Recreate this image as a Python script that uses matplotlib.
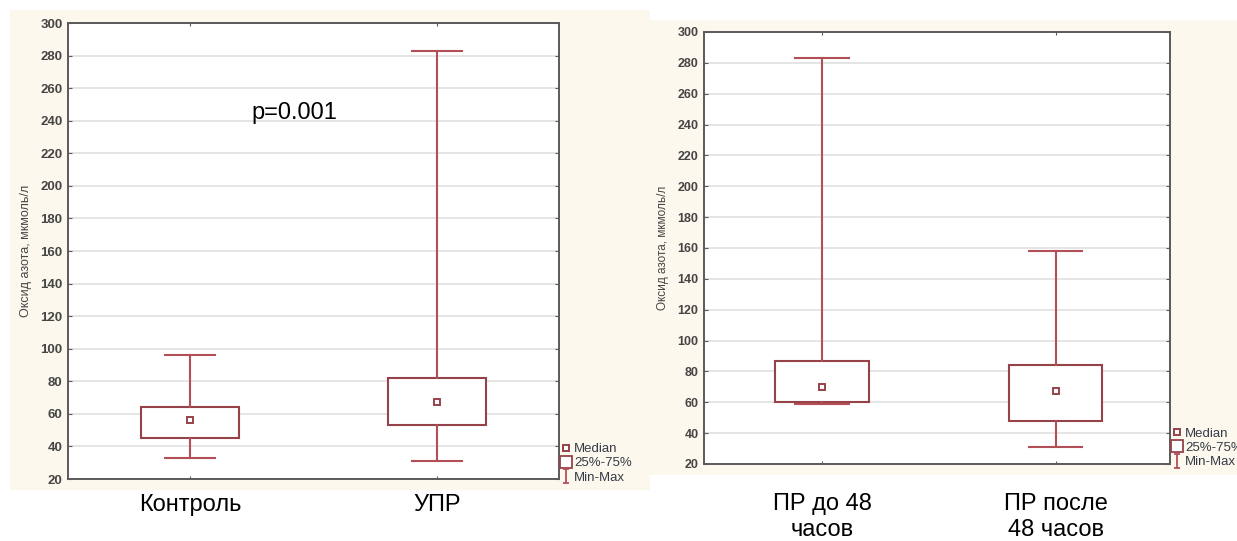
import matplotlib
matplotlib.use("Agg")
import matplotlib.pyplot as plt
from matplotlib.patches import Rectangle
from matplotlib.lines import Line2D
from matplotlib.path import Path

# data
groups_left = ['Контроль', 'УПР']
min_left = [33, 31]
q1_left = [45, 53]
med_left = [56, 67]
q3_left = [64, 82]
max_left = [96, 283]

groups_right = ['ПР до 48\nчасов', 'ПР после\n48 часов']
min_right = [59, 31]
q1_right = [60, 48]
med_right = [70, 67]
q3_right = [87, 84]
max_right = [283, 158]

y_ticks = list(range(20, 301, 20))
y_label = 'Оксид азота, мкмоль/л'
legend_labels = ['Median', '25%-75%', 'Min-Max']

box_col = '#964249'
whisk_col = '#b14e56'
beige = '#fdf8ed'
tick_col = '#454545'
leg_col = '#353b48'

plt.rcParams['font.family'] = ['Liberation Sans', 'DejaVu Sans']

fig = plt.figure(figsize=(12.37, 5.41), dpi=100)
fig.patch.set_facecolor('white')
fig.patches.append(Rectangle((10 / 1237, 1 - 490 / 541), 640 / 1237, 480 / 541,
                             transform=fig.transFigure, facecolor=beige,
                             edgecolor='none', zorder=-10))
fig.patches.append(Rectangle((649 / 1237, 1 - 475 / 541), 588 / 1237, 455 / 541,
                             transform=fig.transFigure, facecolor=beige,
                             edgecolor='none', zorder=-10))

ax1 = fig.add_axes([68 / 1237, 1 - 479 / 541, 491 / 1237, 456 / 541])
ax2 = fig.add_axes([704 / 1237, 1 - 464 / 541, 466 / 1237, 432 / 541])

minmax_marker = Path([(-0.4, -1), (0.4, -1), (0, -1), (0, 1), (-0.4, 1), (0.4, 1)],
                     [Path.MOVETO, Path.LINETO, Path.MOVETO, Path.LINETO,
                      Path.MOVETO, Path.LINETO])


def draw_panel(ax, groups, mins, q1s, meds, q3s, maxs, xlim, capw, pad, tsize, lsize):
    stats = []
    for i in range(len(groups)):
        stats.append({'med': meds[i], 'q1': q1s[i], 'q3': q3s[i],
                      'whislo': mins[i], 'whishi': maxs[i],
                      'mean': meds[i], 'fliers': []})
    ax.bxp(stats, positions=list(range(len(groups))), widths=0.4,
           capwidths=capw, showmeans=True, showfliers=False, patch_artist=True,
           boxprops=dict(facecolor='white', edgecolor=box_col, linewidth=1.5),
           whiskerprops=dict(color=whisk_col, linewidth=1.5),
           capprops=dict(color=whisk_col, linewidth=1.5),
           medianprops=dict(linestyle='none'),
           meanprops=dict(marker='s', markersize=4, markerfacecolor='white',
                          markeredgecolor=box_col, markeredgewidth=1.4))
    ax.set_xlim(*xlim)
    ax.set_ylim(20, 300)
    ax.set_yticks(y_ticks)
    ax.set_facecolor('white')
    ax.yaxis.grid(True, color='#e3e3e3', linewidth=1.3)
    ax.set_axisbelow(True)
    for s in ax.spines.values():
        s.set_color('#5a5a5a')
        s.set_linewidth(1.4)
    ax.tick_params(axis='y', labelsize=tsize, labelcolor=tick_col, length=3,
                   direction='in', color='#5a5a5a', right=True, pad=4)
    for t in ax.get_yticklabels():
        t.set_fontweight('bold')
    ax.set_xticks(list(range(len(groups))))
    ax.set_xticklabels(groups, fontsize=17, color='black', linespacing=1.2)
    ax.tick_params(axis='x', length=2, direction='in', top=True, pad=pad,
                   color='#5a5a5a')
    ax.set_ylabel(y_label, fontsize=lsize, color=tick_col, labelpad=6)
    handles = [
        Line2D([], [], linestyle='none', marker='s', markersize=4,
               markerfacecolor='white', markeredgecolor=box_col, markeredgewidth=1.4),
        Line2D([], [], linestyle='none', marker='s', markersize=8.5,
               markerfacecolor='white', markeredgecolor=box_col, markeredgewidth=1.3),
        Line2D([], [], linestyle='none', marker=minmax_marker, markersize=9.5,
               markerfacecolor='none', markeredgecolor=whisk_col, markeredgewidth=1.3),
    ]
    leg = ax.legend(handles, legend_labels, loc='lower left',
                    bbox_to_anchor=(1.004, -0.01), frameon=False, fontsize=9.5,
                    handlelength=0.8, handletextpad=0.2, labelspacing=0.15,
                    borderpad=0, borderaxespad=0)
    for t in leg.get_texts():
        t.set_color(leg_col)


draw_panel(ax1, groups_left, min_left, q1_left, med_left, q3_left, max_left,
           (-0.494, 1.494), 0.2, 11, 9.5, 9)
draw_panel(ax2, groups_right, min_right, q1_right, med_right, q3_right, max_right,
           (-0.506, 1.49), 0.23, 21, 9, 8.5)

ax1.text(0.25, 241, 'p=0.001', fontsize=17, color='black',
         ha='left', va='baseline')

fig.savefig('out.png', dpi=100)
